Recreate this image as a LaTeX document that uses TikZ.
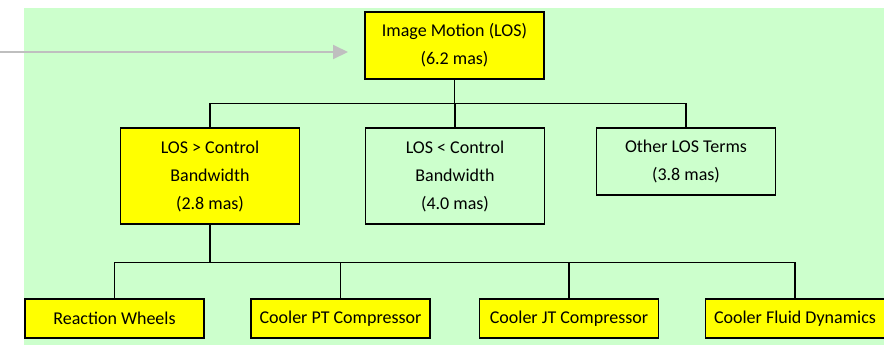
\documentclass[tikz,border=0pt]{standalone}
\usepackage{fontspec}
\setmainfont{Carlito}
\usepackage{tikz}
\usetikzlibrary{arrows.meta,positioning}

\definecolor{bggreen}{HTML}{CCFFCC}
\definecolor{boxyellow}{HTML}{FFFF00}
\definecolor{arrowgray}{HTML}{BFBFBF}

\begin{document}
\begin{tikzpicture}
  [x=1pt,y=-1pt,every node/.style={draw=black,line width=1.2pt,align=center,inner sep=0pt,
     minimum width=179pt,font=\fontsize{18}{28}\selectfont},
   hot/.style={fill=boxyellow},cool/.style={fill=bggreen},
   wire/.style={draw=black,line width=1.2pt}]
  \useasboundingbox (0,0) rectangle (884,349);
  \fill[bggreen] (24,8) rectangle (884,345);

  \node[hot,minimum height=67pt] (im) at (454.5,45.5) {Image Motion (LOS)\\(6.2 mas)};
  \node[hot,minimum height=96pt] (hi) at (210,176) {LOS > Control\\Bandwidth\\(2.8 mas)};
  \node[cool,minimum height=96pt] (lo) at (455,176) {LOS < Control\\Bandwidth\\(4.0 mas)};
  \node[cool,minimum height=67pt] (oth) at (686,161.5) {Other LOS Terms\\(3.8 mas)};
  \node[hot,minimum height=39pt] (rw) at (114.5,318.5) {Reaction Wheels};
  \node[hot,minimum height=39pt] (pt) at (340.5,318.5) {Cooler PT Compressor};
  \node[hot,minimum height=39pt] (jt) at (569,318.5) {Cooler JT Compressor};
  \node[hot,minimum height=39pt] (fd) at (795,318.5) {Cooler Fluid Dynamics};

  \coordinate (feed) at (0,52);
  \coordinate (tip) at (348,52);
  \draw[arrowgray,line width=2pt,-{Triangle[length=15pt,width=14pt]}] (feed) -- (tip);

  \foreach \to in {hi,lo,oth}
    \draw[wire] (im.south) -- ++(0,24) -| (\to.north);
  \foreach \to in {rw,pt,jt,fd}
    \draw[wire] (hi.south) -- ++(0,38) -| (\to.north);

\end{tikzpicture}
\end{document}
